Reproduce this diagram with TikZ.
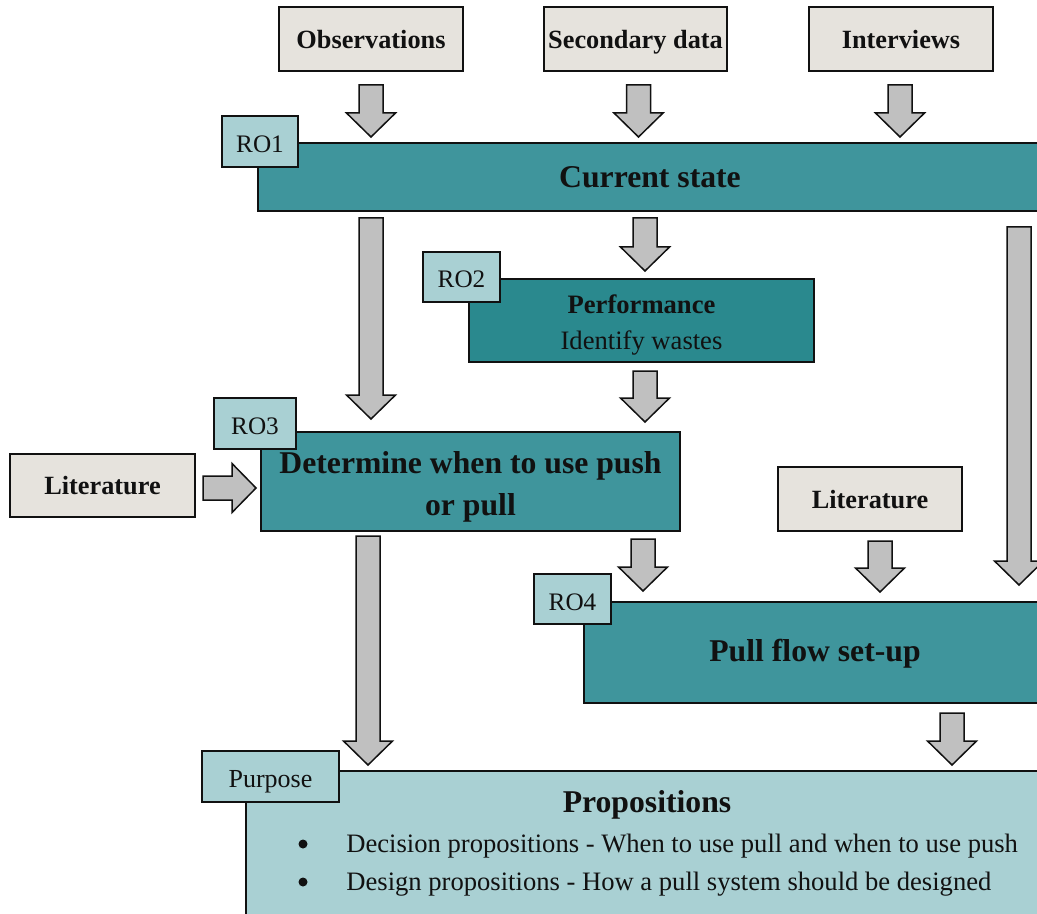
\documentclass[tikz,border=0pt]{standalone}
\usepackage{fontspec}
\setmainfont{Liberation Serif}
\usetikzlibrary{calc}

\definecolor{srcfill}{HTML}{E6E3DD}
\definecolor{tealmain}{HTML}{3F959C}
\definecolor{tealdark}{HTML}{2A898E}
\definecolor{pale}{HTML}{A9D0D3}
\definecolor{arrowgrey}{HTML}{C0C0C0}
\definecolor{ink}{HTML}{111111}

% Downward block arrow: #1 = top of shaft, #2 = tip (its x is used for both)
\newcommand\vblock[2]{%
  \draw[blockarrow] let \p1=#1, \p2=#2 in
    (\x2-6pt,\y1) -- (\x2+6pt,\y1) -- (\x2+6pt,\y2+12pt) -- (\x2+12.25pt,\y2+12pt)
    -- (\x2,\y2) -- (\x2-12.25pt,\y2+12pt) -- (\x2-6pt,\y2+12pt) -- cycle;}
% Rightward block arrow: #1 = tail of shaft, #2 = tip (its y is used for both)
\newcommand\hblock[2]{%
  \draw[blockarrow] let \p1=#1, \p2=#2 in
    (\x1,\y2+6pt) -- (\x2-12pt,\y2+6pt) -- (\x2-12pt,\y2+12.25pt) -- (\x2,\y2)
    -- (\x2-12pt,\y2-12.25pt) -- (\x2-12pt,\y2-6pt) -- (\x1,\y2-6pt) -- cycle;}
% invisible strut that lowers a text block inside its box
\newcommand\lift[1]{\rule{0pt}{#1}}

\begin{document}
\begin{tikzpicture}[x=0.5pt,y=-0.5pt,
  sz/.style 2 args={minimum width=#1*0.5pt,minimum height=#2*0.5pt},
  box/.style={draw=ink,line width=1pt,inner sep=0pt,text=ink},
  source/.style={box,fill=srcfill,text depth=0pt,font=\bfseries\fontsize{13.15}{15}\selectfont},
  stage/.style={box,fill=tealmain,align=center,font=\bfseries\fontsize{15.85}{21}\selectfont},
  tag/.style={box,fill=pale,text height=11pt,text depth=0pt,font=\fontsize{12.6}{15}\selectfont},
  plain/.style={text=ink,inner sep=0pt},
  dot/.style={circle,fill=ink,inner sep=0pt,minimum size=4.5pt},
  blockarrow/.style={draw=ink,fill=arrowgrey,line width=0.75pt,line join=miter},
]
\useasboundingbox (0,0) rectangle (1037,914);
\clip (0,0) rectangle (1037,914);

% data sources
\node[source,sz={184}{64}] (obs) at (371,39)   {Observations};
\node[source,sz={183}{64}] (sec) at (635.5,39) {Secondary data};
\node[source,sz={184}{64}] (int) at (901,39)   {Interviews};

% research stages
\node[stage,sz={784}{68}] (cur) at (650,177) {Current state};
\node[stage,fill=tealdark,sz={345}{83},font=\fontsize{13.3}{18}\selectfont]
  (perf) at (641.5,320.5) {\lift{14.1pt}\textbf{Performance}\\Identify wastes};
\node[stage,sz={419}{99}] (det) at (470.5,481.5) {\lift{16.8pt}Determine when to use push\\or pull};
\node[source,sz={185}{63}] (lit1) at (102.5,485.5) {Literature};
\node[source,sz={184}{64}] (lit2) at (870,499) {Literature};
\node[stage,sz={462}{101}] (pull) at (815,652.5) {\lift{12.8pt}Pull flow set-up};

% outcome
\node[box,fill=pale,sz={802}{170}] (prop) at (647,856) {};
\node[plain,anchor=base,font=\bfseries\fontsize{15.85}{19}\selectfont]
  (ptitle) at (647,812) {Propositions};
\node[dot] (bul1) at (303,844) {};
\node[plain,anchor=base west,font=\fontsize{13.3}{16}\selectfont]
  (item1) at (346,852) {Decision propositions - When to use pull and when to use push};
\node[dot] (bul2) at (303,882) {};
\node[plain,anchor=base west,font=\fontsize{13.3}{16}\selectfont]
  (item2) at (346,890) {Design propositions - How a pull system should be designed};

% objective tags
\node[tag,sz={76}{51}]  (ro1) at (260,141.5) {RO1};
\node[tag,sz={77}{50}]  (ro2) at (461.5,277) {RO2};
\node[tag,sz={82}{51}]  (ro3) at (255,423.5) {RO3};
\node[tag,sz={77}{50}]  (ro4) at (572.5,599) {RO4};
\node[tag,sz={137}{51},font=\fontsize{13}{15}\selectfont] (purp) at (270.5,776.5) {Purpose};

% flows
\vblock{($(obs.south)+(0,13)$)}{($(obs.south |- cur.north)+(0,-5)$)}
\vblock{($(sec.south)+(3,13)$)}{($(sec.south |- cur.north)+(3,-5)$)}
\vblock{($(int.south)+(-1,13)$)}{($(int.south |- cur.north)+(-1,-5)$)}
\vblock{($(cur.south -| obs.south)+(0,6)$)}{($(det.north -| obs.south)+(0,-12)$)}
\vblock{($(cur.south -| perf.north)+(3.5,6)$)}{($(perf.north)+(3.5,-7)$)}
\vblock{($(cur.south -| pull.north)+(204,15)$)}{($(pull.north)+(204,-16)$)}
\vblock{($(perf.south)+(3.5,8)$)}{($(perf.south |- det.north)+(3.5,-9)$)}
\hblock{($(lit1.east)+(7,2.5)$)}{($(lit1.east -| det.west)+(-4,2.5)$)}
\vblock{($(det.south)+(-102.5,4)$)}{($(det.south |- prop.north)+(-102.5,-5)$)}
\vblock{($(det.south)+(172.5,7)$)}{($(det.south |- pull.north)+(172.5,-10)$)}
\vblock{($(lit2.south)+(10,9)$)}{($(lit2.south |- pull.north)+(10,-9)$)}
\vblock{($(pull.south)+(137,9)$)}{($(pull.south |- prop.north)+(137,-5)$)}
\end{tikzpicture}
\end{document}
